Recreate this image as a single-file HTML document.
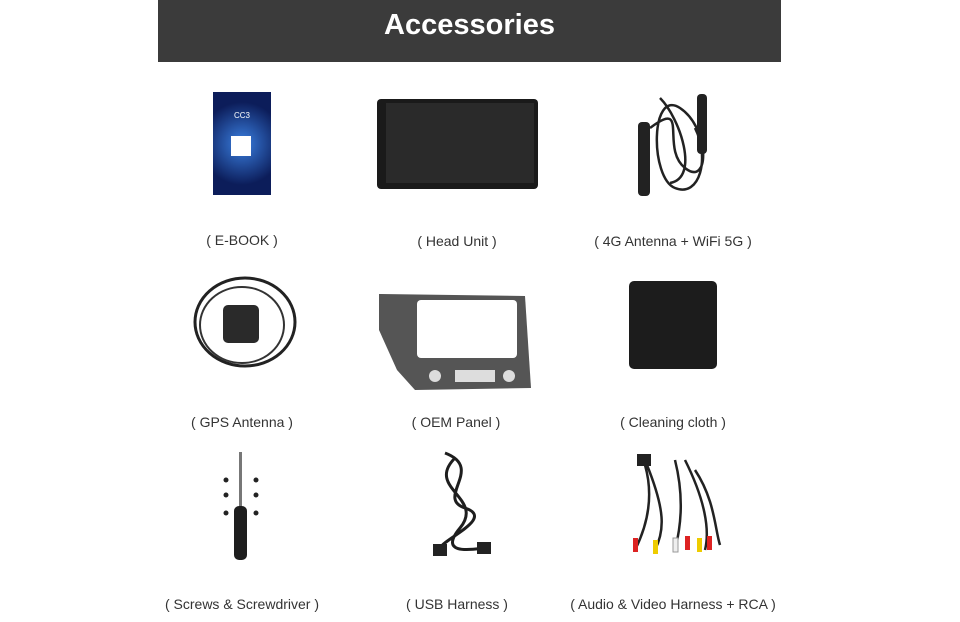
<!DOCTYPE html>
<html><head><meta charset="utf-8"><style>
html,body{margin:0;padding:0;background:#fff;}
body{width:960px;height:622px;position:relative;overflow:hidden;font-family:"Liberation Sans",sans-serif;}
.hdr{position:absolute;left:158px;top:0;width:623px;height:62px;background:#3b3b3b;color:#fff;font-weight:bold;font-size:29px;text-align:center;line-height:50px;}
.lbl{position:absolute;width:260px;margin-left:-130px;text-align:center;font-size:14px;color:#333;}
.a{position:absolute;}
</style></head><body>
<div class="hdr">Accessories</div>

<!-- E-book -->
<div class="a" style="left:213px;top:92px;width:58px;height:103px;background:radial-gradient(circle at 50% 50%,#3a7fe0,#0c1d5a 70%);"></div>
<div class="a" style="left:231px;top:136px;width:20px;height:20px;background:#fff;"></div>
<div class="a" style="left:225px;top:113px;width:34px;height:6px;color:#fff;font-size:8px;line-height:6px;text-align:center;">CC3</div>
<!-- Head unit -->
<div class="a" style="left:377px;top:99px;width:161px;height:90px;background:#1a1a1a;border-radius:4px;"></div>
<div class="a" style="left:386px;top:103px;width:148px;height:80px;background:#2a2a2a;"></div>
<!-- 4G antenna -->
<svg class="a" style="left:630px;top:88px" width="90" height="112">
<rect x="8" y="34" width="12" height="74" rx="4" fill="#222"/>
<rect x="67" y="6" width="10" height="60" rx="4" fill="#222"/>
<path d="M20 40 C60 10,30 60,55 80 S80 40,50 20 S20 90,45 100 S80 70,65 40 M30 10 C50 30,70 90,40 95" stroke="#222" stroke-width="2.5" fill="none"/>
</svg>
<!-- GPS -->
<svg class="a" style="left:190px;top:270px" width="115" height="110">
<ellipse cx="55" cy="52" rx="50" ry="44" stroke="#222" stroke-width="3" fill="none"/>
<ellipse cx="52" cy="55" rx="42" ry="38" stroke="#333" stroke-width="2" fill="none"/>
<rect x="33" y="35" width="36" height="38" rx="5" fill="#2a2a2a"/>
</svg>
<!-- OEM panel -->
<svg class="a" style="left:375px;top:290px" width="160" height="104">
<path d="M4 4 L150 6 L156 98 L40 100 L22 80 L4 40 Z" fill="#555"/>
<rect x="42" y="10" width="100" height="58" rx="4" fill="#fff"/>
<circle cx="60" cy="86" r="6" fill="#ddd"/><circle cx="134" cy="86" r="6" fill="#ddd"/>
<rect x="80" y="80" width="40" height="12" fill="#ddd"/>
</svg>
<!-- Cloth -->
<div class="a" style="left:629px;top:281px;width:88px;height:88px;background:#1c1c1c;border-radius:5px;"></div>
<!-- Screwdriver -->
<div class="a" style="left:239px;top:452px;width:3px;height:56px;background:#777;"></div>
<div class="a" style="left:234px;top:506px;width:13px;height:54px;background:#1e1e1e;border-radius:5px;"></div>
<svg class="a" style="left:220px;top:475px" width="45" height="50"><g fill="#222"><circle cx="6" cy="5" r="2.5"/><circle cx="6" cy="20" r="2.5"/><circle cx="6" cy="38" r="2.5"/><circle cx="36" cy="5" r="2.5"/><circle cx="36" cy="20" r="2.5"/><circle cx="36" cy="38" r="2.5"/></g></svg>
<!-- USB -->
<svg class="a" style="left:425px;top:448px" width="75" height="115">
<path d="M20 5 C60 20,10 50,40 60 S20 90,15 100 M30 10 C0 40,60 50,35 80 S55 100,60 100" stroke="#1e1e1e" stroke-width="3" fill="none"/>
<rect x="8" y="96" width="14" height="12" fill="#222"/><rect x="52" y="94" width="14" height="12" fill="#222"/>
</svg>
<!-- AV -->
<svg class="a" style="left:625px;top:450px" width="100" height="110">
<rect x="12" y="4" width="14" height="12" fill="#222"/>
<path d="M20 15 C30 50,20 80,10 100 M22 15 C40 60,40 80,30 100 M50 10 C60 50,55 80,50 100 M60 10 C80 50,85 80,80 100 M70 20 C90 50,90 80,95 95" stroke="#222" stroke-width="2.5" fill="none"/>
<g><rect x="8" y="88" width="5" height="14" fill="#d22"/><rect x="28" y="90" width="5" height="14" fill="#ec0"/><rect x="48" y="88" width="5" height="14" fill="#eee" stroke="#999"/><rect x="60" y="86" width="5" height="14" fill="#d22"/><rect x="72" y="88" width="5" height="14" fill="#ec0"/><rect x="82" y="86" width="5" height="14" fill="#d22"/></g>
</svg>

<div class="lbl" style="left:242px;top:232px">( E-BOOK )</div>
<div class="lbl" style="left:457px;top:233px">( Head Unit )</div>
<div class="lbl" style="left:673px;top:233px">( 4G Antenna + WiFi 5G )</div>
<div class="lbl" style="left:242px;top:414px">( GPS Antenna )</div>
<div class="lbl" style="left:456px;top:414px">( OEM Panel )</div>
<div class="lbl" style="left:673px;top:414px">( Cleaning cloth )</div>
<div class="lbl" style="left:242px;top:596px">( Screws &amp; Screwdriver )</div>
<div class="lbl" style="left:457px;top:596px">( USB Harness )</div>
<div class="lbl" style="left:673px;top:596px">( Audio &amp; Video Harness + RCA )</div>
</body></html>
